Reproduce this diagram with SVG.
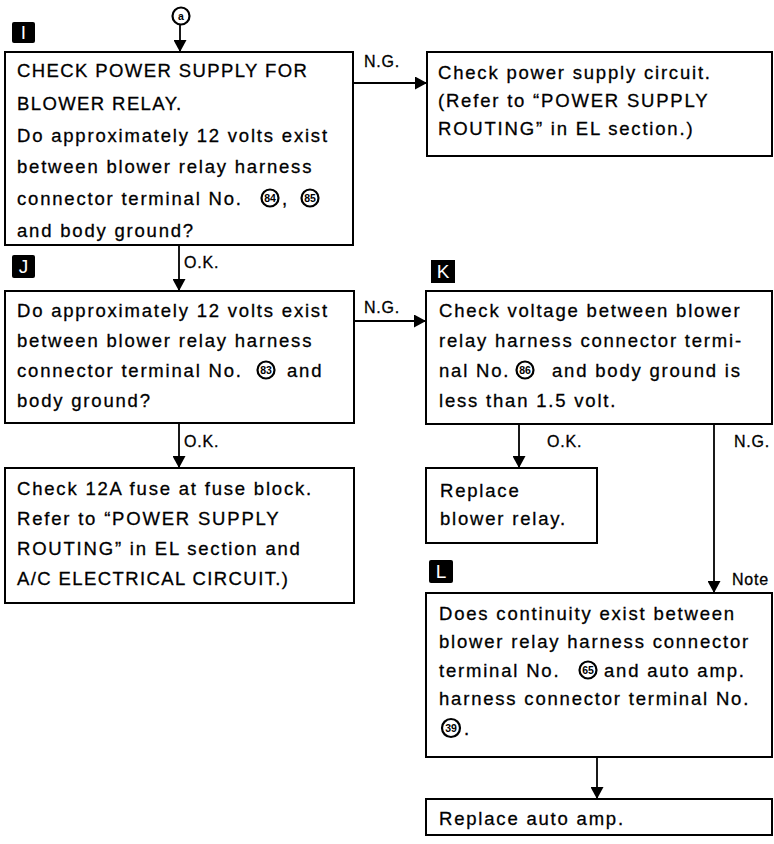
<svg xmlns="http://www.w3.org/2000/svg" width="774" height="844" viewBox="0 0 774 844">
  <style>
    .box { fill: #ffffff; stroke: #000000; stroke-width: 2; }
    .txt { font-family: "Liberation Sans", Arial, sans-serif; font-size: 18.5px; letter-spacing: 1.8px; fill: #000000; stroke: #000000; stroke-width: 0.3px; }
    .caps { letter-spacing: 1.4px; }
    .lbl { font-family: "Liberation Sans", Arial, sans-serif; font-size: 16px; letter-spacing: 0.8px; fill: #000000; stroke: #000000; stroke-width: 0.3px; }
    .step { fill: #000000; }
    .stepTxt { font-family: "Liberation Sans", Arial, sans-serif; font-size: 19px; fill: #ffffff; text-anchor: middle; }
    .term { fill: #ffffff; stroke: #000000; stroke-width: 2.2; }
    .termTxt { font-family: "Liberation Sans", Arial, sans-serif; font-size: 10.5px; font-weight: bold; fill: #000000; text-anchor: middle; }
    .wire { fill: none; stroke: #000000; stroke-width: 1.8; }
  </style>
  <defs>
    <marker id="head" viewBox="0 0 12 13" refX="12" refY="6.5" markerWidth="12" markerHeight="13" markerUnits="userSpaceOnUse" orient="auto">
      <path d="M0,0 L12,6.5 L0,13 z" fill="#000000"/>
    </marker>
  </defs>

  <!-- entry point -->
  <g id="entry-a">
    <circle class="term" cx="181" cy="16" r="8.5"/>
    <text class="termTxt" x="181" y="20">a</text>
  </g>

  <!-- connectors -->
  <g id="connectors">
    <line class="wire" x1="180" y1="25" x2="180" y2="52" marker-end="url(#head)"/>
    <line class="wire" x1="353" y1="83" x2="427" y2="83" marker-end="url(#head)"/>
    <line class="wire" x1="179" y1="245" x2="179" y2="291" marker-end="url(#head)"/>
    <line class="wire" x1="354" y1="321" x2="426" y2="321" marker-end="url(#head)"/>
    <line class="wire" x1="179" y1="423" x2="179" y2="468" marker-end="url(#head)"/>
    <line class="wire" x1="519" y1="424" x2="519" y2="468" marker-end="url(#head)"/>
    <line class="wire" x1="714" y1="424" x2="714" y2="593" marker-end="url(#head)"/>
    <line class="wire" x1="597" y1="757" x2="597" y2="799" marker-end="url(#head)"/>
    <text class="lbl" x="364" y="67">N.G.</text>
    <text class="lbl" x="184" y="268">O.K.</text>
    <text class="lbl" x="364" y="313">N.G.</text>
    <text class="lbl" x="184" y="447">O.K.</text>
    <text class="lbl" x="547" y="447">O.K.</text>
    <text class="lbl" x="734" y="447">N.G.</text>
    <text class="lbl" x="732" y="585">Note</text>
  </g>

  <!-- step I -->
  <g id="node-I">
    <rect class="step" x="12" y="22" width="23" height="21" rx="2"/>
    <text class="stepTxt" x="23.5" y="39">I</text>
    <rect class="box" x="5" y="52" width="348" height="193"/>
    <text class="txt caps" x="17" y="77">CHECK POWER SUPPLY FOR</text>
    <text class="txt caps" x="17" y="110">BLOWER RELAY.</text>
    <text class="txt" x="17" y="142">Do approximately 12 volts exist</text>
    <text class="txt" x="17" y="173">between blower relay harness</text>
    <text class="txt" x="17" y="205">connector terminal No.</text>
    <circle class="term" cx="270" cy="198" r="8.5"/>
    <text class="termTxt" x="270" y="202">84</text>
    <text class="txt" x="282" y="205">,</text>
    <circle class="term" cx="310" cy="198" r="8.5"/>
    <text class="termTxt" x="310" y="202">85</text>
    <text class="txt" x="17" y="237">and body ground?</text>
  </g>

  <g id="node-power-circuit">
    <rect class="box" x="427" y="52" width="345" height="104"/>
    <text class="txt" x="438" y="79">Check power supply circuit.</text>
    <text class="txt" x="438" y="107">(Refer to “POWER SUPPLY</text>
    <text class="txt" x="438" y="135">ROUTING” in EL section.)</text>
  </g>

  <!-- step J -->
  <g id="node-J">
    <rect class="step" x="12" y="255" width="23" height="23" rx="2"/>
    <text class="stepTxt" x="23.5" y="273">J</text>
    <rect class="box" x="5" y="291" width="349" height="132"/>
    <text class="txt" x="17" y="317">Do approximately 12 volts exist</text>
    <text class="txt" x="17" y="347">between blower relay harness</text>
    <text class="txt" x="17" y="377">connector terminal No.</text>
    <circle class="term" cx="266" cy="370" r="8.5"/>
    <text class="termTxt" x="266" y="374">83</text>
    <text class="txt" x="287" y="377">and</text>
    <text class="txt" x="17" y="407">body ground?</text>
  </g>

  <g id="node-fuse">
    <rect class="box" x="5" y="468" width="349" height="135"/>
    <text class="txt" x="17" y="495">Check 12A fuse at fuse block.</text>
    <text class="txt" x="17" y="525">Refer to “POWER SUPPLY</text>
    <text class="txt" x="17" y="555">ROUTING” in EL section and</text>
    <text class="txt caps" x="17" y="585">A/C ELECTRICAL CIRCUIT.)</text>
  </g>

  <!-- step K -->
  <g id="node-K">
    <rect class="step" x="431" y="260" width="24" height="23"/>
    <text class="stepTxt" x="443" y="278">K</text>
    <rect class="box" x="426" y="291" width="346" height="133"/>
    <text class="txt" x="439" y="317">Check voltage between blower</text>
    <text class="txt" x="439" y="347">relay harness connector termi-</text>
    <text class="txt" x="439" y="377">nal No.</text>
    <circle class="term" cx="525" cy="370" r="8.5"/>
    <text class="termTxt" x="525" y="374">86</text>
    <text class="txt" x="552" y="377">and body ground is</text>
    <text class="txt" x="439" y="407">less than 1.5 volt.</text>
  </g>

  <g id="node-relay">
    <rect class="box" x="426" y="468" width="171" height="75"/>
    <text class="txt" x="440" y="497">Replace</text>
    <text class="txt" x="440" y="525">blower relay.</text>
  </g>

  <!-- step L -->
  <g id="node-L">
    <rect class="step" x="429" y="560" width="24" height="23" rx="2"/>
    <text class="stepTxt" x="441" y="578">L</text>
    <rect class="box" x="426" y="593" width="346" height="164"/>
    <text class="txt" x="439" y="620">Does continuity exist between</text>
    <text class="txt" x="439" y="648">blower relay harness connector</text>
    <text class="txt" x="439" y="677">terminal No.</text>
    <circle class="term" cx="588" cy="670" r="8.5"/>
    <text class="termTxt" x="588" y="674">65</text>
    <text class="txt" x="604" y="677">and auto amp.</text>
    <text class="txt" x="439" y="705">harness connector terminal No.</text>
    <circle class="term" cx="451" cy="728" r="9"/>
    <text class="termTxt" x="451" y="732">39</text>
    <text class="txt" x="464" y="735">.</text>
  </g>

  <g id="node-amp">
    <rect class="box" x="426" y="799" width="346" height="36"/>
    <text class="txt" x="439" y="825">Replace auto amp.</text>
  </g>
</svg>
